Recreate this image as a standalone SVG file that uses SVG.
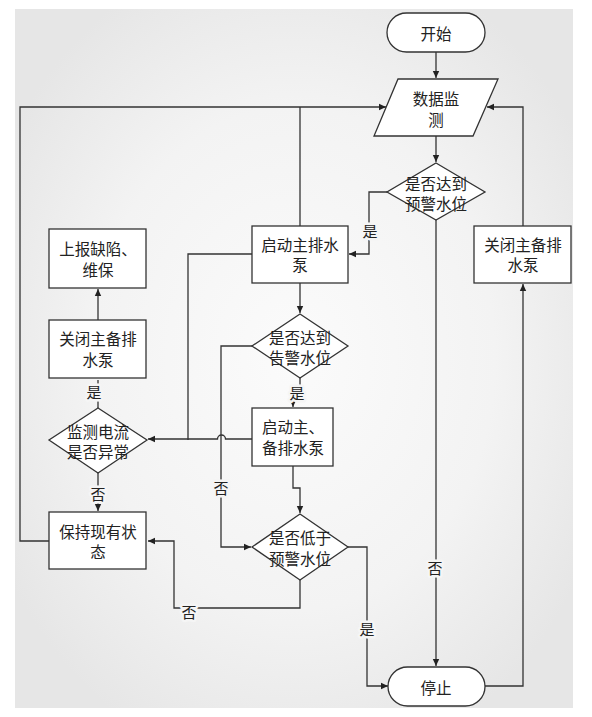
<svg xmlns="http://www.w3.org/2000/svg" width="592" height="717" viewBox="0 0 592 717">
<defs>
<radialGradient id="bg" cx="0.5" cy="0.5" r="0.6">
<stop offset="0" stop-color="#fbfbfb"/>
<stop offset="0.6" stop-color="#f3f3f3"/>
<stop offset="1" stop-color="#e6e6e6"/>
</radialGradient>
<marker id="ah" markerWidth="8" markerHeight="8" refX="7" refY="4" orient="auto" markerUnits="userSpaceOnUse">
<path d="M0,0.8 L7,4 L0,7.2 Z" fill="#222"/>
</marker>
<style>
.shape{fill:#fff;stroke:#333;stroke-width:1.3}
.t{font-family:"Noto Sans CJK SC","Noto Sans",sans-serif;font-size:15.5px;fill:#222;text-anchor:middle;dominant-baseline:central}
.lbl{font-family:"Noto Sans CJK SC","Noto Sans",sans-serif;font-size:15px;fill:#222;text-anchor:middle;dominant-baseline:central;stroke:#f5f5f5;stroke-width:5px;paint-order:stroke;stroke-linejoin:round}
.c{fill:none;stroke:#333;stroke-width:1.3}
.a{marker-end:url(#ah)}
</style>
</defs>
<rect x="0" y="0" width="592" height="717" fill="#fff"/>
<rect x="15" y="9" width="558" height="699" fill="url(#bg)"/>

<g id="connectors">
<path class="c a" d="M436,52 V78"/>
<path class="c a" d="M436,136 V162"/>
<path class="c a" d="M387,192 H369 V254 H349"/>
<path class="c a" d="M436,220 V666"/>
<path class="c a" d="M485,686 H523 V284"/>
<path class="c a" d="M523,226 V107 H487"/>
<path class="c a" d="M49,541 H20 V107 H386"/>
<path class="c" d="M300,226 V107"/>
<path class="c a" d="M300,283 V313"/>
<path class="c a" d="M300,378 V393 H293 V407"/>
<path class="c" d="M252,254 H188 V440"/>
<path class="c a" d="M252,439 H225.5 A4,4 0 0 0 217.5,439 H148"/>
<path class="c a" d="M252,346 H221 V547 H251"/>
<path class="c a" d="M293,466 V488 H300 V513"/>
<path class="c a" d="M348,547 H367 V686 H388"/>
<path class="c a" d="M300,580 V608 H174 V541 H148"/>
<path class="c a" d="M98,473 V511"/>
<path class="c" d="M98,408 V380"/>
<path class="c a" d="M98,320 V289"/>
<text class="lbl" x="370" y="230">是</text>
<text class="lbl" x="297" y="392">是</text>
<text class="lbl" x="94" y="391">是</text>
<text class="lbl" x="98" y="493">否</text>
<text class="lbl" x="221" y="487">否</text>
<text class="lbl" x="189" y="611">否</text>
<text class="lbl" x="367" y="628">是</text>
<text class="lbl" x="435" y="567">否</text>
</g>

<g id="start">
<rect class="shape" x="387" y="13" width="98" height="39" rx="19.5"/>
<text class="t" x="436" y="33">开始</text>
</g>
<g id="monitor">
<polygon class="shape" points="398,79 498,79 473,136 374,136"/>
<text class="t" x="436" y="98">数据监</text>
<text class="t" x="436" y="119">测</text>
</g>
<g id="d1">
<polygon class="shape" points="436,163 485,192 436,220 387,192"/>
<text class="t" x="436" y="183">是否达到</text>
<text class="t" x="436" y="203">预警水位</text>
</g>
<g id="startMain">
<rect class="shape" x="252" y="226" width="96" height="57"/>
<text class="t" x="300" y="244">启动主排水</text>
<text class="t" x="300" y="264">泵</text>
</g>
<g id="closeRight">
<rect class="shape" x="474" y="226" width="97" height="57"/>
<text class="t" x="523" y="244">关闭主备排</text>
<text class="t" x="523" y="264">水泵</text>
</g>
<g id="report">
<rect class="shape" x="49" y="229" width="97" height="59"/>
<text class="t" x="98" y="248">上报缺陷、</text>
<text class="t" x="98" y="269">维保</text>
</g>
<g id="closeLeft">
<rect class="shape" x="49" y="320" width="97" height="58"/>
<text class="t" x="98" y="338">关闭主备排</text>
<text class="t" x="98" y="359">水泵</text>
</g>
<g id="d2">
<polygon class="shape" points="300,314 348,346 300,378 252,346"/>
<text class="t" x="300" y="337">是否达到</text>
<text class="t" x="300" y="357">告警水位</text>
</g>
<g id="startBoth">
<rect class="shape" x="252" y="408" width="81" height="58"/>
<text class="t" x="293" y="426">启动主、</text>
<text class="t" x="293" y="447">备排水泵</text>
</g>
<g id="dCurrent">
<polygon class="shape" points="98,408 147,440 98,473 49,440"/>
<text class="t" x="98" y="431">监测电流</text>
<text class="t" x="98" y="451">是否异常</text>
</g>
<g id="keep">
<rect class="shape" x="49" y="512" width="97" height="57"/>
<text class="t" x="98" y="531">保持现有状</text>
<text class="t" x="98" y="551">态</text>
</g>
<g id="d3">
<polygon class="shape" points="300,514 348,547 300,580 252,547"/>
<text class="t" x="300" y="537">是否低于</text>
<text class="t" x="300" y="558">预警水位</text>
</g>
<g id="stop">
<rect class="shape" x="388" y="667" width="97" height="39" rx="19.5"/>
<text class="t" x="436" y="687">停止</text>
</g>
</svg>
